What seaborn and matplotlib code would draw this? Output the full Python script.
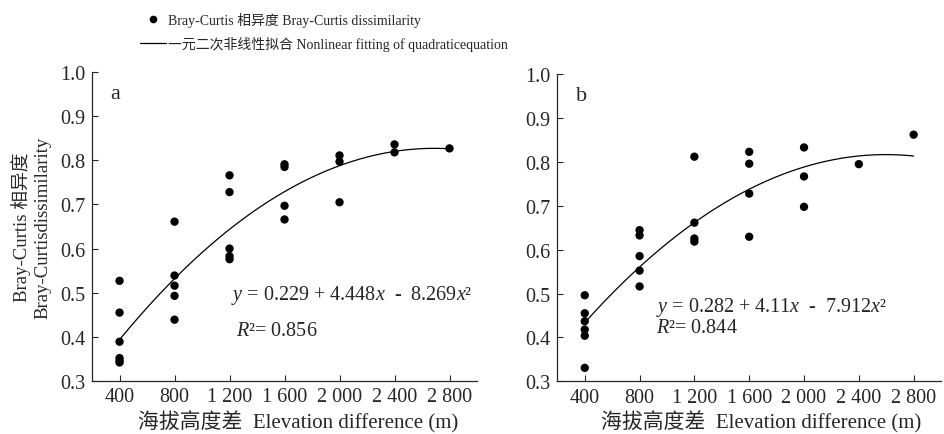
import numpy as np
import pandas as pd
import matplotlib
matplotlib.use('Agg')
import matplotlib.pyplot as plt
from matplotlib.lines import Line2D
import seaborn as sns

# Panel a: elevation difference (m) and Bray-Curtis dissimilarity
a_elev = [400, 400, 400, 400, 400, 400,
          800, 800, 800, 800, 800,
          1200, 1200, 1200, 1200, 1200,
          1600, 1600, 1600, 1600,
          2000, 2000, 2000,
          2400, 2400,
          2800]
a_bc = [0.527, 0.455, 0.389, 0.352, 0.346, 0.342,
        0.661, 0.539, 0.516, 0.493, 0.439,
        0.766, 0.728, 0.600, 0.583, 0.576,
        0.791, 0.785, 0.697, 0.666,
        0.811, 0.797, 0.705,
        0.836, 0.818,
        0.827]

# Panel b
b_elev = [400, 400, 400, 400, 400, 400,
          800, 800, 800, 800, 800,
          1200, 1200, 1200, 1200,
          1600, 1600, 1600, 1600,
          2000, 2000, 2000,
          2400,
          2800]
b_bc = [0.496, 0.455, 0.437, 0.418, 0.404, 0.331,
        0.644, 0.632, 0.585, 0.552, 0.516,
        0.811, 0.661, 0.625, 0.618,
        0.822, 0.795, 0.727, 0.629,
        0.832, 0.766, 0.697,
        0.794,
        0.861]

# quadratic fit coefficients (x = elevation / 10000)
a_coef = [0.229, 4.448, -8.269]
b_coef = [0.282, 4.11, -7.912]
a_eq = '$y$ = 0.229 + 4.448$x$  -  8.269$x$²'
b_eq = '$y$ = 0.282 + 4.11$x$  -  7.912$x$²'
a_r2 = '$R$²= 0.856'
b_r2 = '$R$²= 0.844'

x_ticks = [400, 800, 1200, 1600, 2000, 2400, 2800]
x_ticklabels = ['400', '800', '1 200', '1 600', '2 000', '2 400', '2 800']
y_ticks = [0.3, 0.4, 0.5, 0.6, 0.7, 0.8, 0.9, 1.0]

sns.set_style('ticks')
plt.rcParams['font.family'] = ['Liberation Serif', 'Noto Sans CJK SC']
plt.rcParams['mathtext.fontset'] = 'custom'
plt.rcParams['mathtext.rm'] = 'Liberation Serif'
plt.rcParams['mathtext.it'] = 'Liberation Serif:italic'
plt.rcParams['xtick.direction'] = 'in'
plt.rcParams['ytick.direction'] = 'in'

fig = plt.figure(figsize=(9.44, 4.35), dpi=100)
ax_a = fig.add_axes([0.0975, 0.1218, 0.4078, 0.7103])
ax_b = fig.add_axes([0.5904, 0.1207, 0.4065, 0.7080])


def draw_panel(ax, elev, bc, coef, eq, r2, letter, eq_pos, r2_pos, xlab_x):
    df = pd.DataFrame({'elev': elev, 'bc': bc})
    sns.scatterplot(data=df, x='elev', y='bc', ax=ax, color='black',
                    s=36, edgecolor='none', zorder=3)
    xs = np.linspace(400, 2800, 200)
    fit = pd.DataFrame({'elev': xs,
                        'bc': coef[0] + coef[1] * xs / 1e4 + coef[2] * (xs / 1e4) ** 2})
    sns.lineplot(data=fit, x='elev', y='bc', ax=ax, color='black', lw=0.9)
    ax.set_xlim(200, 3000)
    ax.set_ylim(0.3, 1.0)
    ax.set_xticks(x_ticks)
    ax.set_xticklabels(x_ticklabels)
    ax.set_yticks(y_ticks)
    ax.set_yticklabels([f'{v:.1f}' for v in y_ticks])
    ax.tick_params(labelsize=14.5, length=4, width=0.8)
    ax.tick_params(axis='x', pad=4.5)
    ax.tick_params(axis='y', pad=5)
    for sp in ['left', 'bottom']:
        ax.spines[sp].set_linewidth(0.9)
    sns.despine(ax=ax)
    ax.set_xlabel('海拔高度差  Elevation difference (m)', fontsize=15, labelpad=0)
    ax.xaxis.set_label_coords(xlab_x, -0.094)
    ax.set_ylabel('')
    ax.text(0.048, 0.93, letter, transform=ax.transAxes, fontsize=16, va='center')
    ax.text(eq_pos[0], eq_pos[1], eq, transform=ax.transAxes, fontsize=14.5, va='center')
    ax.text(r2_pos[0], r2_pos[1], r2, transform=ax.transAxes, fontsize=14.5, va='center')


draw_panel(ax_a, a_elev, a_bc, a_coef, a_eq, a_r2, 'a', (0.36, 0.28), (0.375, 0.165), 0.536)
draw_panel(ax_b, b_elev, b_bc, b_coef, b_eq, b_r2, 'b', (0.257, 0.245), (0.257, 0.175), 0.531)

ax_a.set_ylabel('Bray-Curtis 相异度\nBray-Curtisdissimilarity', fontsize=13.5,
                linespacing=1.25)
ax_a.yaxis.set_label_coords(-0.106, 0.5)

handles = [Line2D([], [], marker='o', color='black', ls='none', markersize=4.5),
           Line2D([], [], color='black', lw=0.9)]
labels = ['Bray-Curtis 相异度 Bray-Curtis dissimilarity',
          '一元二次非线性拟合 Nonlinear fitting of quadraticequation']
fig.legend(handles, labels, loc='upper left', bbox_to_anchor=(0.135, 1.0),
           frameon=False, fontsize=10, handlelength=1.9, handletextpad=0.15,
           labelspacing=0.7)

fig.savefig('out.png', dpi=100)
